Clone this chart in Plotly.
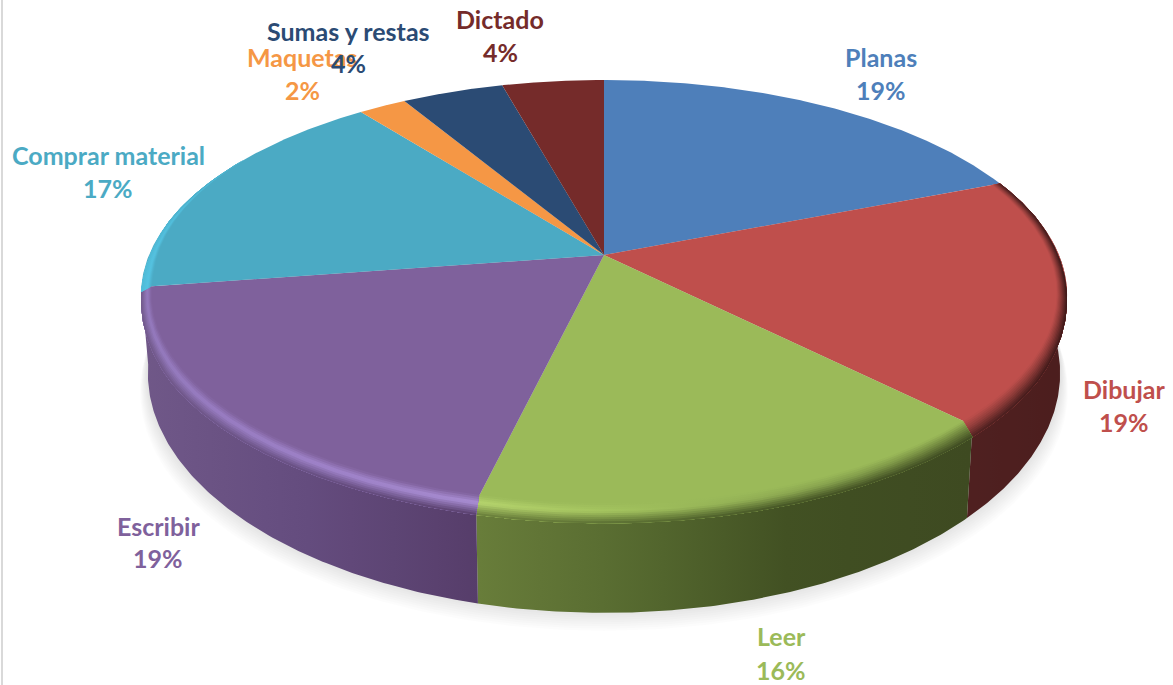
import numpy as np
import plotly.graph_objects as go

# ---- data ----
categorias = ["Planas", "Dibujar", "Leer", "Escribir", "Comprar material", "Maquetas", "Sumas y restas", "Dictado"]
valores = [19.0, 18.6, 16.1, 18.9, 16.9, 2.0, 4.25, 4.25]   # slice sizes
porcentajes = ["19%", "19%", "16%", "19%", "17%", "2%", "4%", "4%"]  # printed labels

# ---- style ----
colores = ["#4e7fba", "#bf4f4c", "#9bba59", "#7f619c", "#4baac4", "#f59745", "#2b4b74", "#752b2a"]
pared = {
    "Dibujar": [(963, "#4f2020"), (1066, "#4c1e1e")],
    "Leer": [(479, "#687d3a"), (640, "#55692f"), (790, "#415023"), (970, "#3e4a21")],
    "Escribir": [(139, "#705888"), (300, "#654d7f"), (478, "#563d6a")],
}
borde_col = {
    "Dibujar": [(963, "#4f2020"), (1066, "#3a1717")],
    "Leer": [(479, "#687d3a"), (640, "#55692f"), (790, "#415023"), (970, "#3e4a21")],
    "Escribir": [(139, "#705888"), (300, "#654d7f"), (478, "#563d6a")],
    "Comprar material": [(139, "#50bcd9"), (200, "#4baac4")],
}
brillo = {
    "Dibujar": [(963, "#9a413e"), (1066, "#8e3a38")],
    "Leer": [(479, "#b6d56e"), (620, "#a3c35e"), (800, "#8aa650"), (970, "#72893f")],
    "Escribir": [(139, "#957abf"), (300, "#a184cc"), (478, "#ab90d6")],
    "Comprar material": [(139, "#55c4e3"), (200, "#50bcd9")],
}
etiquetas = {
    "Planas": (881, 57, 90),
    "Dibujar": (1124, 389, 422),
    "Leer": (781, 636, 670),
    "Escribir": (158, 526, 558),
    "Comprar material": (108, 155, 188),
    "Maquetas": (302, 57, 90),
    "Sumas y restas": (348, 31, 63),
    "Dictado": (500, 19, 52),
}
FUENTE = "Lato"
TAM = 25

# ---- perspective of the disc ----
CX, CY, B, A, K = 604.0, 255.0, 455.0, 207.6, -0.186


def proj(theta, r=1.0):
    X = r * np.sin(theta)
    Y = -r * np.cos(theta)
    w = 1 + K * Y
    return CX + B * X / w, CY + A * Y / w


def fondo(theta):
    w = 1 - K * np.cos(theta)
    return 74.0 / w ** 1.6


def hexrgb(c):
    return np.array([int(c[i:i + 2], 16) for i in (1, 3, 5)], dtype=float)


def mezcla(a, b, t):
    v = hexrgb(a) * (1 - t) + hexrgb(b) * t
    return "#%02x%02x%02x" % tuple(int(round(i)) for i in v)


def color_en(stops, x):
    xs = [s[0] for s in stops]
    for i in range(len(xs) - 1):
        if x <= xs[i + 1]:
            t = np.clip((x - xs[i]) / (xs[i + 1] - xs[i]), 0, 1)
            return mezcla(stops[i][1], stops[i + 1][1], t)
    return stops[-1][1]


fig = go.Figure()


def poly(x, y, color=None, grad=None):
    kw = dict(x=x, y=y, mode="lines", fill="toself", hoverinfo="skip", showlegend=False,
              line=dict(width=0))
    if grad is not None:
        kw["fillgradient"] = grad
    else:
        kw["fillcolor"] = color
    fig.add_trace(go.Scatter(**kw))


# shadow
t_all = np.linspace(0, 2 * np.pi, 361)
xp, yp = proj(t_all)
dp = fondo(t_all)
for i in range(1, 11):
    xs = CX + (xp - CX) * (0.985 + 0.0017 * i)
    ys = yp + dp + 2.2 * i - 4
    poly(xs, ys, color="rgba(0,0,0,0.011)")

# cumulative angles
frac = np.array(valores, dtype=float) / sum(valores)
lim = np.concatenate([[0], np.cumsum(frac)]) * 2 * np.pi
LO, HI = np.radians(80), np.radians(280)


def grad_de(stops_fn, xmin, xmax):
    puntos = np.linspace(xmin, xmax, 9)
    return dict(type="horizontal", start=float(xmin), stop=float(xmax),
                colorscale=[[float(i / 8), stops_fn(p)] for i, p in enumerate(puntos)])


# walls
for i, cat in enumerate(categorias):
    a0, a1 = max(lim[i], LO), min(lim[i + 1], HI)
    if a1 <= a0 or cat not in pared:
        continue
    t = np.linspace(a0, a1, 140)
    x, y = proj(t)
    xb = CX + (x - CX) * 0.985
    yb = y + fondo(t)
    st = pared[cat]
    poly(np.concatenate([x, xb[::-1]]), np.concatenate([y, yb[::-1]]),
         grad=grad_de(lambda p: color_en(st, p), st[0][0], st[-1][0]))

# top faces
for i, cat in enumerate(categorias):
    t = np.linspace(lim[i], lim[i + 1], 160)
    x, y = proj(t)
    poly(np.concatenate([[CX], x, [CX]]), np.concatenate([[CY], y, [CY]]), color=colores[i])

# rounded rim (each step overlaps the next one, so no seams appear)
N = 10
for i, cat in enumerate(categorias):
    if cat not in borde_col:
        continue
    a0, a1 = lim[i], min(lim[i + 1], np.radians(300))
    t = np.linspace(a0, a1, 160)
    st_w, st_b = borde_col[cat], brillo[cat]
    front = np.clip((np.radians(100) - np.abs(t - np.pi)) / np.radians(40), 0, 1)
    ancho = 0.022 * np.clip((np.radians(300) - t) / np.radians(35), 0, 1)
    d = fondo(t)

    def borde(s):
        x, y = proj(t, 1 - ancho * (1 - s))
        return x, y + d * 0.13 * s * front

    x_e, y_e = borde(1.0)
    for j in range(N):
        s0 = j / N
        sm = (j + 0.5) / N
        x0, y0 = borde(s0)

        def col(p, sm=sm):
            if sm < 0.4:
                return mezcla(colores[i], color_en(st_b, p), sm / 0.4)
            return mezcla(color_en(st_b, p), color_en(st_w, p), (sm - 0.4) / 0.6)

        poly(np.concatenate([x0, x_e[::-1]]), np.concatenate([y0, y_e[::-1]]),
             grad=grad_de(col, st_w[0][0], st_w[-1][0]))

# labels
for cat, pct, color in zip(categorias, porcentajes, colores):
    xl, y1, y2 = etiquetas[cat]
    for texto, yy in ((cat, y1), (pct, y2)):
        fig.add_annotation(x=xl, y=yy, text=f"<b>{texto}</b>", showarrow=False,
                           xanchor="center", yanchor="middle",
                           font=dict(family=FUENTE, size=TAM, color=color))

fig.add_shape(type="line", xref="paper", yref="paper", x0=0.0017, x1=0.0017, y0=0, y1=1,
              line=dict(color="#d9d9d9", width=2))

fig.update_layout(
    width=1173, height=685, margin=dict(l=0, r=0, t=0, b=0),
    paper_bgcolor="white", plot_bgcolor="white", showlegend=False,
    xaxis=dict(range=[0, 1173], visible=False, fixedrange=True),
    yaxis=dict(range=[685, 0], visible=False, fixedrange=True),
)
fig.write_html("out.html", config=dict(displayModeBar=False),
               post_script="document.body.style.margin='0';document.body.style.overflow='hidden';")
